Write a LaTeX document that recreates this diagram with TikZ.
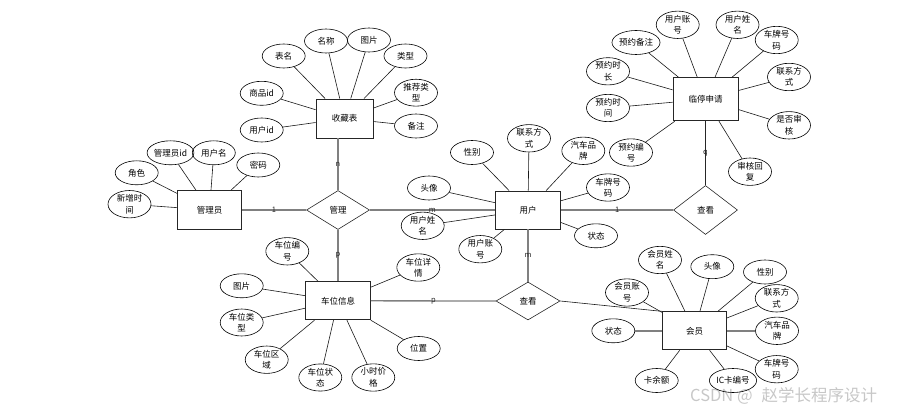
\documentclass[tikz,border=0pt]{standalone}
\usepackage{fontspec}
\setmainfont{Noto Sans CJK SC}
\usetikzlibrary{shapes.geometric}
\begin{document}
\begin{tikzpicture}[x=1pt,y=-1pt,
 attr/.style={draw=black, line width=0.6pt, ellipse, minimum width=43pt, minimum height=24pt, inner sep=0pt, align=center, font=\fontsize{8.5}{11.5}\selectfont},
 ent/.style={draw=black!85, line width=0.9pt, rectangle, minimum width=64pt, minimum height=38pt, inner sep=0pt, font=\fontsize{8.5}{11}\selectfont},
 rel/.style={draw=black!85, line width=0.6pt, diamond, minimum width=64pt, minimum height=38pt, inner sep=0pt, font=\fontsize{8.5}{11}\selectfont},
 aline/.style={draw=black!90, line width=0.6pt},
 rline/.style={draw=black!50, line width=1.3pt},
 tline/.style={draw=black!50, line width=1.6pt},
 lbl/.style={font=\fontsize{7.5}{8}\selectfont, text=black!85, inner sep=0pt}
]
\useasboundingbox (0,0) rectangle (901,406);

% ---------- entities ----------
\node[ent, minimum width=57pt, minimum height=39pt] (sc) at (344.5,118.5) {收藏表};
\node[ent, minimum width=65pt, minimum height=43pt] (lt) at (705.5,99.3) {临停申请};
\node[ent, minimum width=65pt] (yh) at (528,210) {用户};
\node[ent, minimum height=39pt] (gly) at (209.5,210) {管理员};
\node[ent, minimum width=65pt] (cw) at (338,300.8) {车位信息};
\node[ent] (hy) at (694.5,330.8) {会员};

% ---------- relations ----------
\node[rel, minimum width=63pt, minimum height=39pt] (gl) at (338,210) {管理};
\node[rel, minimum height=49pt] (ck1) at (705.5,210) {查看};
\node[rel] (ck2) at (528,301) {查看};

% ---------- 收藏表 attributes ----------
\node[attr] (sc1) at (283.7,56) {表名};
\node[attr] (sc2) at (326,41) {名称};
\node[attr] (sc3) at (369,40) {图片};
\node[attr] (sc4) at (405.5,56) {类型};
\node[attr] (sc5) at (416,92.7) {推荐类\\型};
\node[attr] (sc6) at (416,126) {备注};
\node[attr] (sc7) at (261.7,93.3) {商品id};
\node[attr] (sc8) at (261.7,130) {用户id};
\foreach \n in {sc1,sc2,sc3,sc4,sc5,sc6,sc7,sc8} \draw[aline] (\n) -- (sc);

% ---------- 临停申请 attributes ----------
\node[attr] (lt1) at (677.7,24.8) {用户账\\号};
\node[attr] (lt2) at (737.5,24.8) {用户姓\\名};
\node[attr] (lt3) at (776.7,40) {车牌号\\码};
\node[attr] (lt4) at (789,77) {联系方\\式};
\node[attr] (lt5) at (789,125.3) {是否审\\核};
\node[attr] (lt6) at (750,171.7) {审核回\\复};
\node[attr] (lt7) at (631,152.5) {预约编\\号};
\node[attr] (lt8) at (608,108) {预约时\\间};
\node[attr] (lt9) at (608,71.3) {预约时\\长};
\node[attr] (lt10) at (636,42.5) {预约备注};
\foreach \n in {lt1,lt2,lt3,lt4,lt5,lt6,lt7,lt8,lt9,lt10} \draw[aline] (\n) -- (lt);

% ---------- 用户 attributes ----------
\node[attr] (yh1) at (472,152.5) {性别};
\node[attr] (yh2) at (529,138.3) {联系方\\式};
\node[attr] (yh3) at (583.3,150.8) {汽车品\\牌};
\node[attr] (yh4) at (608,187.5) {车牌号\\码};
\node[attr] (yh5) at (596,235.8) {状态};
\node[attr] (yh6) at (480.3,249.2) {用户账\\号};
\node[attr] (yh7) at (422.7,225.8) {用户姓\\名};
\node[attr] (yh8) at (429,188) {头像};
\foreach \n in {yh1,yh2,yh3,yh4,yh5,yh6,yh7,yh8} \draw[aline] (\n) -- (yh);

% ---------- 管理员 attributes ----------
\node[attr] (gy1) at (170.5,152.8) {管理员id};
\node[attr] (gy2) at (213.8,152.8) {用户名};
\node[attr] (gy3) at (258.3,165) {密码};
\node[attr] (gy4) at (136.7,172.8) {角色};
\node[attr] (gy5) at (129.5,204.2) {新增时\\间};
\foreach \n in {gy1,gy2,gy3,gy4,gy5} \draw[aline] (\n) -- (gly);

% ---------- 车位信息 attributes ----------
\node[attr] (cw1) at (287.3,251.3) {车位编\\号};
\node[attr] (cw2) at (241.7,285.8) {图片};
\node[attr] (cw3) at (241.7,322.5) {车位类\\型};
\node[attr] (cw4) at (266.7,359.7) {车位区\\域};
\node[attr] (cw5) at (320.3,377.5) {车位状\\态};
\node[attr] (cw6) at (373.3,377.5) {小时价\\格};
\node[attr] (cw7) at (418.7,348.5) {位置};
\node[attr] (cw8) at (418.3,267.5) {车位详\\情};
\foreach \n in {cw1,cw2,cw3,cw4,cw5,cw6,cw7,cw8} \draw[aline] (\n) -- (cw);

% ---------- 会员 attributes ----------
\node[attr] (hy1) at (660,260) {会员姓\\名};
\node[attr] (hy2) at (712.3,266.7) {头像};
\node[attr] (hy3) at (765,272) {性别};
\node[attr] (hy4) at (776.7,298.3) {联系方\\式};
\node[attr] (hy5) at (777,330.8) {汽车品\\牌};
\node[attr] (hy6) at (776.7,369.2) {车牌号\\码};
\node[attr] (hy7) at (733,380.5) {IC卡编号};
\node[attr] (hy8) at (656.7,380.5) {卡余额};
\node[attr] (hy9) at (613.3,330.8) {状态};
\node[attr] (hy10) at (627,292.5) {会员账\\号};
\foreach \n in {hy1,hy2,hy3,hy4,hy6,hy7,hy8,hy10} \draw[aline] (\n) -- (hy);
\draw[tline] (hy9) -- (hy);
\draw[tline] (hy5) -- (hy);

% ---------- relationship connectors ----------
\draw[rline] (gly) -- node[lbl]{1} (gl);
\draw[rline] (gl) -- node[lbl]{m} (yh);
\draw[rline] (gl.north) -- node[lbl]{n} (gl.north |- sc.south);
\draw[rline] (gl.south) -- node[lbl]{p} (gl.south |- cw.north);
\draw[rline] (yh) -- node[lbl]{1} (ck1);
\draw[line width=1.3pt, draw=black!85] (ck1.north) -- node[lbl]{q} (ck1.north |- lt.south);
\draw[rline] (yh.south) -- node[lbl]{m} (ck2.north);
\draw[rline] (cw) -- node[lbl]{p} (ck2);
\draw[aline] (ck2.east) -- (hy.north west);

% ---------- watermark ----------
\node[anchor=base west, inner sep=0pt, font=\fontsize{16.5}{16.5}\selectfont, text=black, opacity=0.22] (wm) at (690,401) {CSDN @\hspace{9pt}赵学长程序设计};
\end{tikzpicture}
\end{document}
